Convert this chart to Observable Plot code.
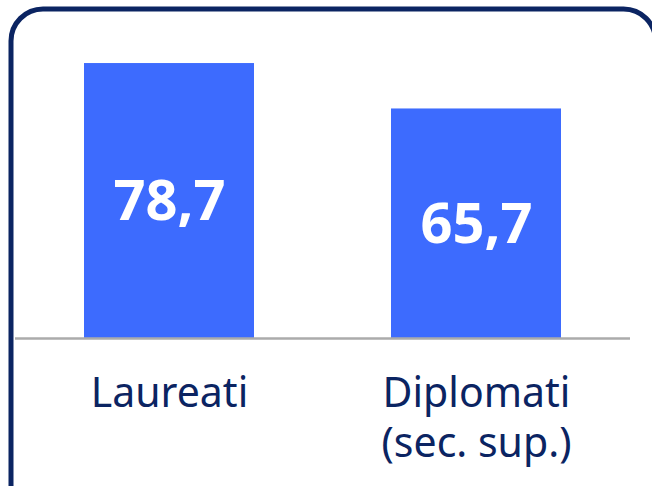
<!DOCTYPE html>
<html>
<head>
<meta charset="utf-8">
<script src="https://cdn.jsdelivr.net/npm/d3@7"></script>
<script src="https://cdn.jsdelivr.net/npm/@observablehq/plot@0.6"></script>
<style>
  html, body { margin: 0; padding: 0; background: #ffffff; }
  #chart svg { display: block; }
</style>
</head>
<body>
<div id="chart"></div>
<script>
const categories = ["Laureati", "Diplomati\n(sec. sup.)"];
const values = [78.7, 65.7];
const valueLabels = ["78,7", "65,7"];

const data = categories.map((c, i) => ({ cat: c, value: values[i], label: valueLabels[i] }));

const barColor = "#3d6bfe";
const navy = "#0b2462";

const chart = Plot.plot({
  width: 652,
  height: 486,
  marginLeft: 15,
  marginRight: 22,
  marginTop: 8.5,
  marginBottom: 0,
  style: { background: "#ffffff", fontFamily: "'Noto Sans', sans-serif" },
  x: { domain: categories, paddingInner: 0.445, paddingOuter: 0.221, axis: null },
  y: { domain: [0, 80], range: [338, 58.5], axis: null },
  marks: [
    Plot.frame({ stroke: navy, strokeWidth: 5, rx: 32, insetLeft: -4.5, insetRight: -25, insetBottom: -40 }),
    Plot.barY(data, { x: "cat", y: "value", fill: barColor }),
    Plot.ruleY([0], { stroke: "#ababab", strokeWidth: 2.5 }),
    Plot.text(data, {
      x: "cat", y: d => d.value / 2, text: "label",
      fill: "white", fontWeight: "bold", fontSize: 56,
      lineAnchor: "middle", dy: 1.5
    }),
    Plot.text(data, {
      x: "cat", y: () => 0, text: "cat",
      fill: navy, fontSize: 41, lineAnchor: "top", lineHeight: 1.22, dy: 33
    })
  ]
});
document.getElementById("chart").appendChild(chart);
</script>
</body>
</html>
